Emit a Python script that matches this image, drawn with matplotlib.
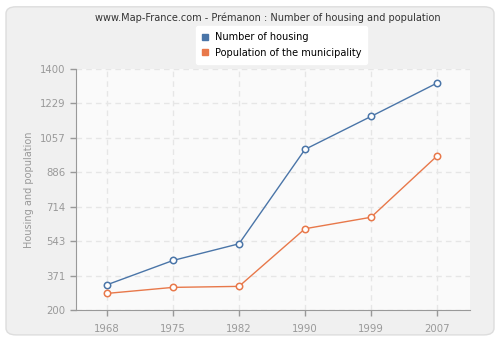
import matplotlib
matplotlib.use("Agg")
import matplotlib.pyplot as plt
from matplotlib.patches import FancyBboxPatch
from matplotlib.lines import Line2D

years = ["1968", "1975", "1982", "1990", "1999", "2007"]
housing = [326, 447, 530, 1000, 1164, 1330]
population = [283, 313, 318, 605, 662, 967]
yticks = [200, 371, 543, 714, 886, 1057, 1229, 1400]

blue = "#4a75a8"
orange = "#e8784a"
grey = "#999999"

fig = plt.figure(figsize=(5, 3.4), dpi=100)
fig.patch.set_facecolor("white")
bg = FancyBboxPatch((0.012, 0.015), 0.976, 0.965, boxstyle="round,pad=0,rounding_size=0.02",
                    transform=fig.transFigure, facecolor="#f0f0f0", edgecolor="#dddddd", lw=1,
                    zorder=-10)
fig.patches.append(bg)

ax = fig.add_axes([0.152, 0.088, 0.788, 0.709])
ax.set_facecolor("#fafafa")
x = list(range(len(years)))

ax.plot(x, housing, color=blue, lw=1, marker="o", ms=4.6, mfc="white", mec=blue, mew=1.1,
        zorder=3)
ax.plot(x, population, color=orange, lw=1, marker="o", ms=4.6, mfc="white", mec=orange, mew=1.1,
        zorder=3)

ax.set_xlim(-0.47, 5.5)
ax.set_ylim(200, 1400)
ax.set_xticks(x)
ax.set_xticklabels(years)
ax.set_yticks(yticks)
ax.tick_params(colors=grey, labelsize=7.3, length=4, width=1)
ax.tick_params(axis="x", pad=6)
ax.grid(True, color="#e6e6e6", ls=(0, (4, 3)), lw=1)
for s in ["top", "right"]:
    ax.spines[s].set_visible(False)
ax.spines["left"].set_color("#999999")
ax.spines["bottom"].set_color("#999999")
ax.set_ylabel("Housing and population", color=grey, fontsize=7)

fig.text(0.535, 0.948, "www.Map-France.com - Prémanon : Number of housing and population",
         ha="center", va="center", fontsize=7, color="#333333")

handles = [Line2D([], [], ls="none", marker="s", ms=4, color=blue),
           Line2D([], [], ls="none", marker="s", ms=4, color=orange)]
leg = fig.legend(handles, ["Number of housing", "Population of the municipality"],
                 loc="center", bbox_to_anchor=(0.563, 0.868), fontsize=7, frameon=True,
                 handlelength=0.8, borderpad=0.6, labelspacing=0.6, handletextpad=0.6,
                 fancybox=True, framealpha=1)
leg.get_frame().set_facecolor("white")
leg.get_frame().set_edgecolor("white")

fig.savefig("out.png", dpi=100)
